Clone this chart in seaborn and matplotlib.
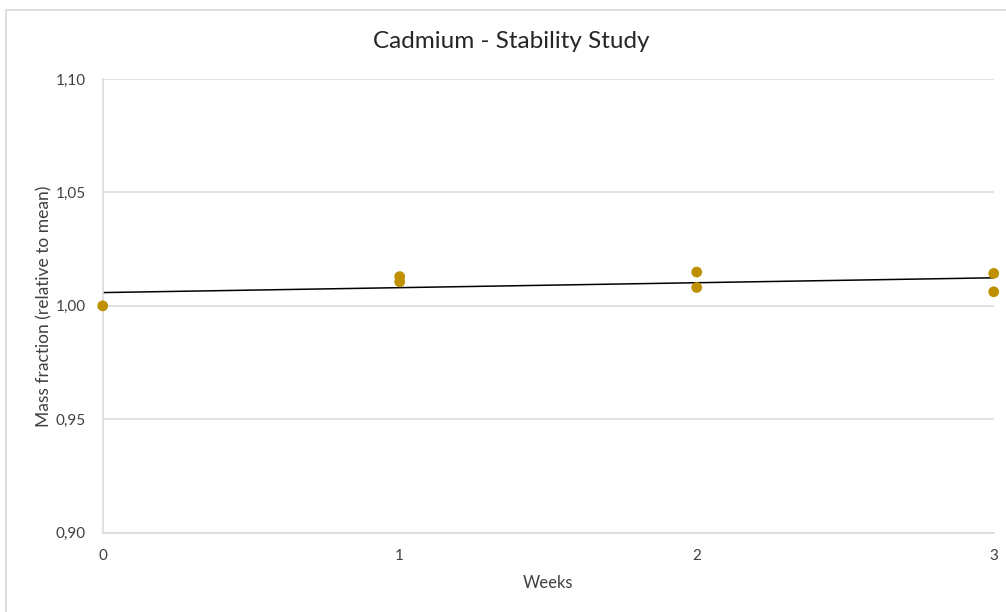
import numpy as np
import pandas as pd
import matplotlib
matplotlib.use("Agg")
import matplotlib.pyplot as plt
from matplotlib.ticker import FuncFormatter, FixedLocator
from matplotlib.patches import Rectangle
import seaborn as sns

# Stability study measurements (relative to mean)
weeks = [0, 1, 1, 2, 2, 3, 3]
mass_fraction = [1.0000, 1.0129, 1.0106, 1.0149, 1.0081, 1.0143, 1.0062]
week_ticks = [0, 1, 2, 3]
y_ticks = [0.90, 0.95, 1.00, 1.05, 1.10]

df = pd.DataFrame({"Weeks": weeks, "Mass fraction": mass_fraction})

sns.set_theme(style="white")
plt.rcParams["font.family"] = ["Lato", "DejaVu Sans"]

fig = plt.figure(figsize=(10.06, 6.12), dpi=100)
ax = fig.add_axes([0.1021, 0.1296, 0.9878 - 0.1021, 0.8709 - 0.1296])

# chart area border
fig.patches.append(Rectangle((5.5 / 1006, -0.1), 1.2, (612 - 10) / 612 + 0.1,
                             transform=fig.transFigure, fill=False,
                             edgecolor="#d9d9d9", linewidth=1.2, zorder=0))

sns.scatterplot(data=df, x="Weeks", y="Mass fraction", ax=ax, color="#BF9000",
                s=60, edgecolor="none", zorder=3, clip_on=False)
sns.regplot(data=df, x="Weeks", y="Mass fraction", ax=ax, scatter=False, ci=None,
            line_kws={"color": "black", "linewidth": 1.1, "zorder": 2})

ax.set_xlim(0, 3)
ax.set_ylim(0.90, 1.10)
ax.xaxis.set_major_locator(FixedLocator(week_ticks))
ax.yaxis.set_major_locator(FixedLocator(y_ticks))
ax.yaxis.set_major_formatter(FuncFormatter(lambda v, p: f"{v:.2f}".replace(".", ",")))
ax.grid(axis="y", color="#d9d9d9", linewidth=1.1)
ax.grid(axis="x", visible=False)
for side in ["top", "right"]:
    ax.spines[side].set_visible(False)
ax.spines["left"].set_color("#d9d9d9")
ax.spines["bottom"].set_color("#d9d9d9")
ax.spines["left"].set_linewidth(1.1)
ax.spines["bottom"].set_linewidth(1.1)
ax.tick_params(axis="both", length=0, labelsize=11, colors="#404040")
ax.tick_params(axis="y", pad=12)
ax.tick_params(axis="x", pad=12)

ax.set_xlabel("Weeks", fontsize=12, color="#404040", va="center")
ax.xaxis.set_label_coords(0.5, -(583 - 532.7) / 453.7, transform=ax.transAxes)
ax.set_ylabel("Mass fraction (relative to mean)", fontsize=12.5, color="#404040", va="center")
ax.yaxis.set_label_coords(-(102.7 - 44) / 891, 0.5, transform=ax.transAxes)

fig.text(511 / 1006, 1 - 42 / 612, "Cadmium - Stability Study", ha="center", va="center",
         fontsize=17.5, color="#262626")

fig.savefig("out.png", dpi=100, facecolor="white")
